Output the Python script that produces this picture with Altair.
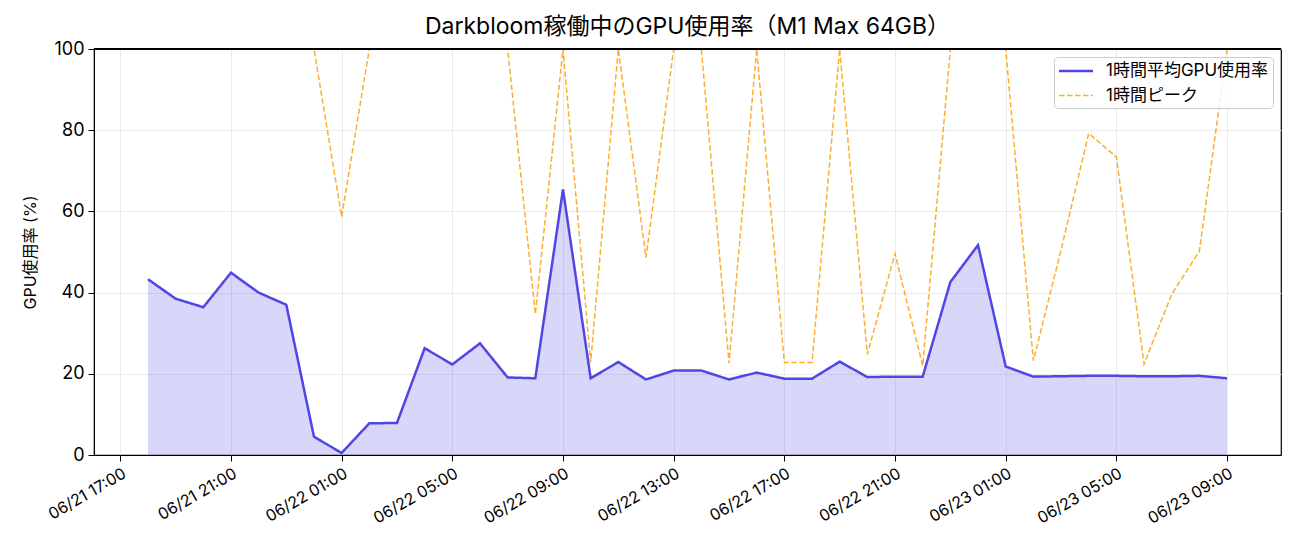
import altair as alt
import pandas as pd

# ---- data ----
hours = (
    [f"2025-06-21T{h:02d}:00" for h in range(18, 24)]
    + [f"2025-06-22T{h:02d}:00" for h in range(0, 24)]
    + [f"2025-06-23T{h:02d}:00" for h in range(0, 10)]
)
avg_gpu = [
    43.3, 38.5, 36.4, 44.9, 40.0, 37.0,
    4.5, 0.5, 7.8, 7.9, 26.3, 22.3, 27.5, 19.1, 18.9, 65.4, 18.9, 22.9,
    18.6, 20.8, 20.8, 18.6, 20.3, 18.8, 18.8, 23.0, 19.2, 19.3, 19.3, 42.6,
    51.7, 21.8, 19.3, 19.4, 19.5, 19.5, 19.4, 19.4, 19.5, 18.9,
]
peak_gpu = [
    100, 100, 100, 100, 100, 100,
    100, 58.7, 100, 100, 100, 100, 100, 100, 34.7, 100, 22.8, 100,
    48.6, 100, 100, 22.6, 100, 22.8, 22.8, 100, 24.8, 49.6, 22.0, 100,
    100, 100, 23.2, 50.5, 79.2, 73.4, 22.4, 39.6, 50.2, 100,
]
series_names = ["1時間平均GPU使用率", "1時間ピーク"]
tick_times = [
    "2025-06-21T17:00", "2025-06-21T21:00", "2025-06-22T01:00", "2025-06-22T05:00",
    "2025-06-22T09:00", "2025-06-22T13:00", "2025-06-22T17:00", "2025-06-22T21:00",
    "2025-06-23T01:00", "2025-06-23T05:00", "2025-06-23T09:00",
]
x_domain = ["2025-06-21T16:03", "2025-06-23T10:57"]
y_ticks = [0, 20, 40, 60, 80, 100]
y_max = 100

title_text = "Darkbloom稼働中のGPU使用率（M1 Max 64GB）"
y_title = "GPU使用率 (%)"

FONT = "Inter, Noto Sans CJK JP"
BLUE = "#4f46e5"
ORANGE = "rgba(250,160,10,0.85)"

area_df = pd.DataFrame({"time": hours, "value": avg_gpu})
line_df = pd.DataFrame({
    "time": hours + hours,
    "value": avg_gpu + peak_gpu,
    "series": [series_names[0]] * len(hours) + [series_names[1]] * len(hours),
})


def to_dt(s):
    d, t = s.split("T")
    y, m, dd = d.split("-")
    hh, mm = t.split(":")
    return alt.DateTime(year=int(y), month=int(m), date=int(dd), hours=int(hh), minutes=int(mm))


x_scale = alt.Scale(domain=[to_dt(s) for s in x_domain])
x_axis = alt.Axis(
    values=[to_dt(s) for s in tick_times],
    format="%m/%d %H:%M",
    labelAngle=330,
    labelAlign="right",
    labelBaseline="top",
    labelFontSize=16,
    labelPadding=4,
    tickSize=6,
    title=None,
    grid=True,
)
y_scale = alt.Scale(domain=[0, y_max], nice=False)
y_axis = alt.Axis(
    values=y_ticks,
    labelFontSize=18,
    tickSize=6,
    labelPadding=4,
    title=y_title,
    titleFontSize=16,
    titleFontWeight="normal",
    titlePadding=15,
    grid=True,
)

area = alt.Chart(area_df).mark_area(color=BLUE, opacity=0.22, clip=True).encode(
    x=alt.X("time:T", scale=x_scale, axis=x_axis),
    y=alt.Y("value:Q", scale=y_scale, axis=y_axis),
)

lines = alt.Chart(line_df).mark_line(clip=True).encode(
    x=alt.X("time:T", scale=x_scale),
    y=alt.Y("value:Q", scale=y_scale),
    color=alt.Color(
        "series:N",
        scale=alt.Scale(domain=series_names, range=[BLUE, ORANGE]),
        legend=alt.Legend(
            title=None,
            orient="top-right",
            offset=8,
            symbolType="M-2,0L2,0",
            symbolSize=289,
            symbolOffset=8,
            labelFontSize=17,
            labelOffset=20,
            labelLimit=300,
            rowPadding=7,
            padding=4,
            fillColor="rgba(255,255,255,0.8)",
            strokeColor="#cccccc",
            cornerRadius=4,
        ),
    ),
    strokeDash=alt.StrokeDash(
        "series:N",
        scale=alt.Scale(domain=series_names, range=[[1, 0], [5.5, 2.5]]),
    ),
    strokeWidth=alt.StrokeWidth(
        "series:N",
        scale=alt.Scale(domain=series_names, range=[2.5, 1.5]),
    ),
)

# top frame edge drawn above the lines (like a matplotlib spine)
top_edge = alt.Chart(area_df).mark_rule(color="black", strokeWidth=1.8).encode(
    y=alt.datum(y_max, scale=y_scale),
)

chart = alt.layer(area, lines, top_edge).properties(
    width=1187,
    height=406,
    title=alt.TitleParams(title_text, fontSize=23, fontWeight="normal", offset=1,
                          font=FONT, color="black"),
    autosize=alt.AutoSizeParams(type="none"),
    padding={"left": 86, "top": 41, "right": 11, "bottom": 83},
).configure(
    font=FONT,
).configure_view(
    stroke="black", strokeWidth=1.2,
).configure_axis(
    labelFont=FONT, titleFont=FONT, labelColor="black", titleColor="black",
    domainColor="black", tickColor="black", gridColor="#ebebeb", gridWidth=1,
).configure_legend(
    labelFont=FONT, labelColor="black",
)

chart.save("out.html", embed_options={"renderer": "svg", "actions": False})
